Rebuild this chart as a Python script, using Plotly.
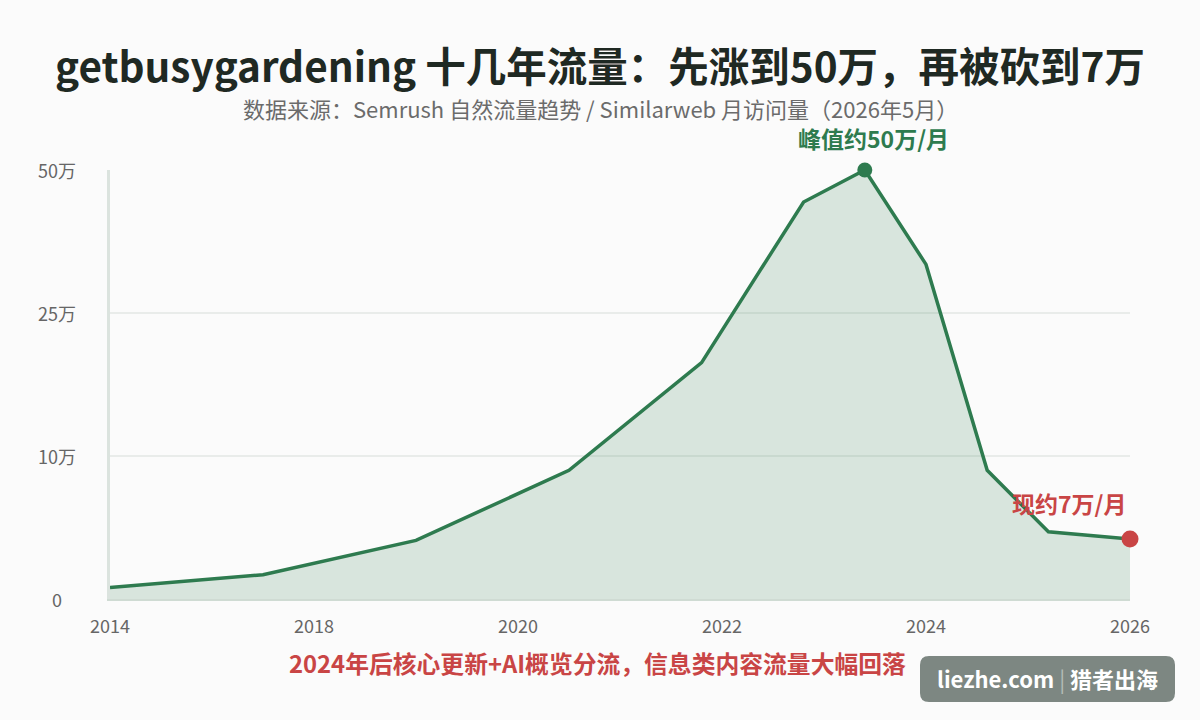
import numpy as np
import plotly.graph_objects as go

# ---- data ----
years = [2014, 2017, 2019, 2020.5, 2021.8, 2022.8, 2023.4, 2024.0, 2024.6, 2025.2, 2026]
visits_wan = [0.8, 1.7, 4.1, 9.0, 19.8, 44.4, 50.0, 33.5, 9.0, 4.7, 4.2]
x_ticks = [2014, 2018, 2020, 2022, 2024, 2026]
y_ticks = [0, 10, 25, 50]
y_tick_text = ["0", "10万", "25万", "50万"]

title = "getbusygardening 十几年流量：先涨到50万，再被砍到7万"
subtitle = "数据来源：Semrush 自然流量趋势 / Similarweb 月访问量（2026年5月）"
peak_label = "峰值约50万/月"
now_label = "现约7万/月"
note = "2024年后核心更新+AI概览分流，信息类内容流量大幅回落"

# ---- axis transforms (piecewise scales, equal spacing between ticks) ----
xs = np.interp(years, x_ticks, np.arange(len(x_ticks)))
ys = np.interp(visits_wan, y_ticks, np.arange(len(y_ticks)))
ipk = int(np.argmax(visits_wan))

GREEN = "#2e7b4f"
RED = "#c94545"
FONT = "Noto Sans CJK SC"

fig = go.Figure()
fig.add_trace(go.Scatter(
    x=xs, y=ys, mode="lines", line=dict(color=GREEN, width=3.5),
    fill="tozeroy", fillcolor="rgba(46,123,79,0.17)", hoverinfo="skip",
    cliponaxis=False))
fig.add_trace(go.Scatter(
    x=[xs[ipk]], y=[ys[ipk]], mode="markers",
    marker=dict(color=GREEN, size=15), hoverinfo="skip", cliponaxis=False))
fig.add_trace(go.Scatter(
    x=[xs[-1]], y=[ys[-1]], mode="markers",
    marker=dict(color=RED, size=17), hoverinfo="skip", cliponaxis=False))

L, R, T, B = 110, 70, 170, 121
W, H = 1200, 720
pw, ph = W - L - R, H - T - B

def px(xp):
    return (xp - L) / pw

def py(yp):
    return (H - B - yp) / ph

annotations = []
# y tick labels (centered)
for v, t in zip(np.arange(len(y_ticks)), y_tick_text):
    annotations.append(dict(x=px(57), xref="paper", y=v, yref="y", text=t,
                            showarrow=False, xanchor="center", yanchor="middle",
                            font=dict(family=FONT, size=18, color="#666666")))
annotations += [
    dict(x=px(600), xref="paper", y=py(108), yref="paper", text=subtitle, showarrow=False,
         xanchor="center", yanchor="middle",
         font=dict(family=FONT, size=22, color="#6b6b6b")),
    dict(x=xs[ipk], y=ys[ipk], text=f"<b>{peak_label}</b>", showarrow=False,
         xanchor="center", yanchor="bottom", yshift=13, xshift=9,
         font=dict(family=FONT, size=23, color=GREEN)),
    dict(x=xs[-1], y=ys[-1], text=f"<b>{now_label}</b>", showarrow=False,
         xanchor="right", yanchor="bottom", yshift=17, xshift=-2,
         font=dict(family=FONT, size=23, color=RED)),
    dict(x=px(597), xref="paper", y=py(662), yref="paper", text=f"<b>{note}</b>", showarrow=False,
         xanchor="center", yanchor="middle",
         font=dict(family=FONT, size=23.8, color=RED)),
    dict(x=px(1047), xref="paper", y=py(678), yref="paper",
         text="<b>liezhe.com</b> <span style='color:#b5bdb8'>|</span> <b>猎者出海</b>",
         showarrow=False, xanchor="center", yanchor="middle",
         font=dict(family=FONT, size=22, color="#ffffff")),
]

# rounded watermark box
x0, x1, y0, y1, r = 920, 1175, 656, 702, 9
def P(a, b):
    return f"{px(a):.5f},{py(b):.5f}"
path = (f"M {P(x0 + r, y0)} L {P(x1 - r, y0)} Q {P(x1, y0)} {P(x1, y0 + r)} "
        f"L {P(x1, y1 - r)} Q {P(x1, y1)} {P(x1 - r, y1)} L {P(x0 + r, y1)} "
        f"Q {P(x0, y1)} {P(x0, y1 - r)} L {P(x0, y0 + r)} Q {P(x0, y0)} {P(x0 + r, y0)} Z")

fig.update_layout(
    width=W, height=H,
    margin=dict(l=L, r=R, t=T, b=B),
    paper_bgcolor="#fbfbfb", plot_bgcolor="#fbfbfb",
    showlegend=False,
    title=dict(text=f"<b>{title}</b>", x=0.5, xanchor="center", xref="container",
               y=1 - 68 / H, yref="container", yanchor="middle",
               font=dict(family=FONT, size=40.5, color="#1f2923")),
    annotations=annotations,
    shapes=[dict(type="path", path=path, xref="paper", yref="paper",
                 fillcolor="#7d8782", line=dict(width=0), layer="above")],
    xaxis=dict(range=[0, len(x_ticks) - 1], tickvals=list(np.arange(len(x_ticks))),
               ticktext=[str(t) for t in x_ticks], showgrid=False, zeroline=False,
               showline=True, linecolor="#cfdbd3", linewidth=2, ticks="",
               ticklabelstandoff=10,
               tickfont=dict(family=FONT, size=18, color="#666666")),
    yaxis=dict(range=[0, len(y_ticks) - 1], tickvals=list(np.arange(len(y_ticks))),
               showticklabels=False, showgrid=True, gridcolor="#e9ecea", gridwidth=1.5,
               zeroline=False, showline=True, linecolor="#dbe3de", linewidth=3, ticks=""),
)

fig.write_html("out.html")
